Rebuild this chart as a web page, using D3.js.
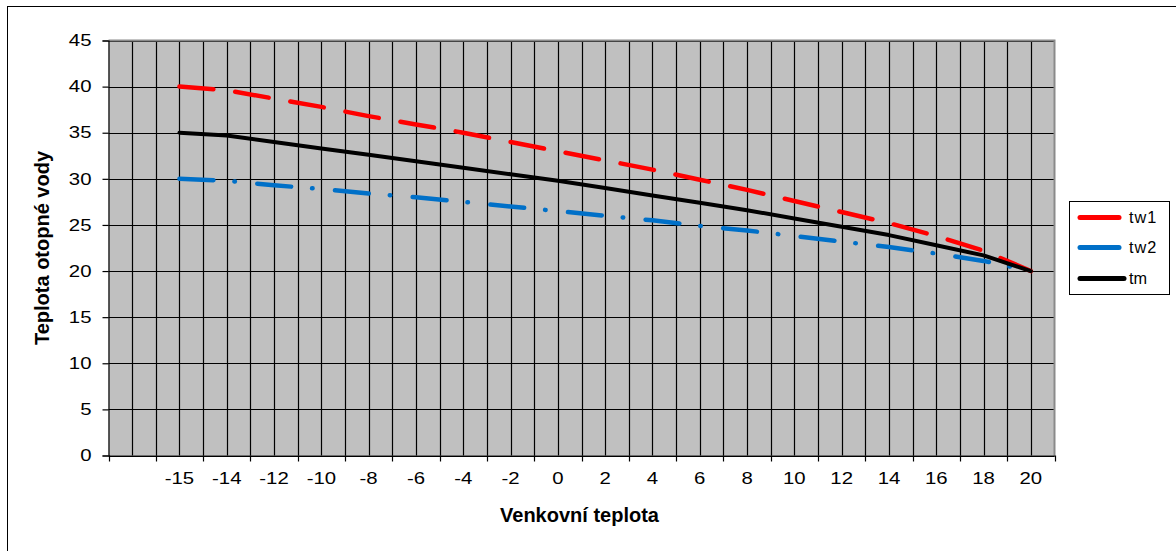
<!DOCTYPE html>
<html>
<head>
<meta charset="utf-8">
<script src="https://cdn.jsdelivr.net/npm/d3@7"></script>
<style>
  html, body { margin: 0; padding: 0; background: #fff; }
  svg { display: block; font-family: "Liberation Sans", Arial, sans-serif; }
</style>
</head>
<body>
<svg id="chart" width="1176" height="551"></svg>
<script>
const categories = ["", "-15", "-14", "-12", "-10", "-8", "-6", "-4", "-2", "0", "2", "4", "6", "8", "10", "12", "14", "16", "18", "20"];
const tw1 = [null, 40, 39.6, 38.7, 37.8, 36.8, 35.9, 35.0, 34.0, 33.0, 32.0, 31.0, 29.9, 28.8, 27.6, 26.4, 25.2, 23.8, 22.2, 20];
const tw2 = [null, 30, 29.8, 29.3, 28.9, 28.4, 28.0, 27.5, 27.0, 26.5, 26.0, 25.5, 24.9, 24.4, 23.8, 23.2, 22.6, 21.9, 21.1, 20];
const tm  = [null, 35, 34.7, 34.0, 33.3, 32.6, 31.9, 31.2, 30.5, 29.8, 29.0, 28.2, 27.4, 26.6, 25.7, 24.8, 23.9, 22.8, 21.7, 20];
const yTicks = [0, 5, 10, 15, 20, 25, 30, 35, 40, 45];
const seriesNames = ["tw1", "tw2", "tm"];

const series = [
  { name: seriesNames[0], values: tw1, color: "#FF0000", dash: "34,22", width: 4.5 },
  { name: seriesNames[1], values: tw2, color: "#0070C8", dash: "34,21,0.5,22.5", width: 4.5 },
  { name: seriesNames[2], values: tm,  color: "#000000", dash: null, width: 4 }
];

const svg = d3.select("#chart");
const L = 108.5, R = 1054.5, T = 40.5, B = 455.5;
const FONT = "'Liberation Sans', Arial, sans-serif";

// outer frame
svg.append("rect").attr("x", 7.5).attr("y", 6.5).attr("width", 1180).attr("height", 560)
  .attr("fill", "#fff").attr("stroke", "#000").attr("stroke-width", 1);

const x = d3.scaleBand().domain(categories.map((c, i) => i)).range([L, R]).padding(0);
const y = d3.scaleLinear().domain([0, 45]).range([B, T]);
const bw = x.bandwidth();

// plot background
svg.append("rect").attr("x", L).attr("y", T).attr("width", R - L).attr("height", B - T)
  .attr("fill", "#C0C0C0");

const grid = svg.append("g");
grid.selectAll("line.h").data(yTicks).join("line")
  .attr("x1", L).attr("x2", R)
  .attr("y1", d => Math.round(y(d)) + 0.5).attr("y2", d => Math.round(y(d)) + 0.5)
  .attr("stroke", "#000").attr("stroke-width", 1.2);
const vlines = [];
categories.forEach((c, i) => { vlines.push(x(i)); vlines.push(x(i) + bw / 2); });
grid.selectAll("line.v").data(vlines.slice(1)).join("line")
  .attr("x1", d => Math.round(d) + 0.5).attr("x2", d => Math.round(d) + 0.5)
  .attr("y1", T).attr("y2", B)
  .attr("stroke", "#000").attr("stroke-width", 1.2);

// plot border top/right
svg.append("path").attr("d", `M${L},${T}H${R}V${B}`).attr("fill", "none")
  .attr("stroke", "#8a8a8a").attr("stroke-width", 2);

// y axis
const yAxis = svg.append("g").attr("transform", `translate(${L},0)`)
  .call(d3.axisLeft(y).tickValues(yTicks).tickSize(6).tickPadding(7.6).tickFormat(d3.format("d")));
yAxis.select(".domain").attr("stroke", "#000").attr("stroke-width", 1.2);
yAxis.selectAll(".tick line").attr("stroke", "#000").attr("stroke-width", 1.2);
yAxis.selectAll("text").attr("font-size", 16.3).attr("fill", "#000")
  .attr("font-family", FONT).attr("transform", "scale(1.25,1)");

// x axis labels
const xAxis = svg.append("g").attr("transform", `translate(0,${B})`)
  .call(d3.axisBottom(x).tickSize(0).tickPadding(17).tickFormat(i => categories[i]));
xAxis.select(".domain").attr("stroke", "#000").attr("stroke-width", 1.2);
xAxis.selectAll("text").attr("font-size", 16.3).attr("fill", "#000")
  .attr("font-family", FONT).attr("transform", "scale(1.25,1)");
const bounds = categories.map((c, i) => x(i)).concat([x(categories.length - 1) + bw]);
svg.append("g").selectAll("line").data(bounds).join("line")
  .attr("x1", d => Math.round(d) + 0.5).attr("x2", d => Math.round(d) + 0.5)
  .attr("y1", B).attr("y2", B + 6)
  .attr("stroke", "#000").attr("stroke-width", 1.2);

// lines
const line = d3.line()
  .defined(d => d.v !== null)
  .x(d => x(d.i) + bw / 2)
  .y(d => y(d.v));

series.forEach(s => {
  const pts = s.values.map((v, i) => ({ i, v }));
  const p = svg.append("path").datum(pts)
    .attr("d", line)
    .attr("fill", "none")
    .attr("stroke", s.color)
    .attr("stroke-width", s.width)
    .attr("stroke-linecap", "round")
    .attr("stroke-linejoin", "round");
  if (s.dash) p.attr("stroke-dasharray", s.dash);
});

// axis titles
svg.append("text")
  .attr("transform", `translate(49,${(T + B) / 2}) rotate(-90)`)
  .attr("text-anchor", "middle")
  .attr("font-size", 20).attr("font-weight", "bold").attr("fill", "#000")
  .text("Teplota otopné vody");
svg.append("text")
  .attr("x", (L + R) / 2 - 2).attr("y", 522)
  .attr("text-anchor", "middle")
  .attr("font-size", 20).attr("font-weight", "bold").attr("fill", "#000")
  .text("Venkovní teplota");

// legend
const lg = svg.append("g");
lg.append("rect").attr("x", 1069.5).attr("y", 201.5).attr("width", 100).attr("height", 93)
  .attr("fill", "#fff").attr("stroke", "#000").attr("stroke-width", 1);
const ly = [217.5, 247.5, 278.5];
series.forEach((s, k) => {
  lg.append("line").attr("x1", 1080).attr("x2", s.name === "tm" ? 1124 : 1119)
    .attr("y1", ly[k]).attr("y2", ly[k])
    .attr("stroke", s.color).attr("stroke-width", 5).attr("stroke-linecap", "round");
  lg.append("text").attr("x", 1129).attr("y", ly[k]).attr("dy", "0.36em")
    .attr("font-size", 16.3).attr("fill", "#000")
    .attr("letter-spacing", s.name === "tm" ? 0 : 1)
    .text(s.name);
});
</script>
</body>
</html>
